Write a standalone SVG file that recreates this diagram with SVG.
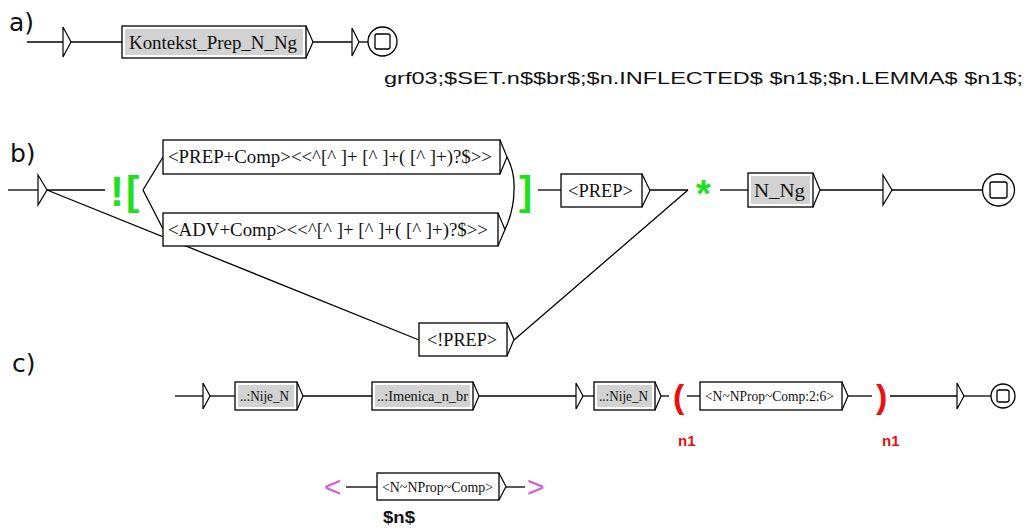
<svg xmlns="http://www.w3.org/2000/svg" width="1029" height="529" viewBox="0 0 1029 529">
<style>
.ln{stroke:#000;stroke-width:1.3;fill:none}
.box{fill:#fff;stroke:#000;stroke-width:1.3}
.gray{fill:#d2d2d2;stroke:none}
.arr{fill:none;stroke:#000;stroke-width:1.2}
.tri{fill:#fff;stroke:#000;stroke-width:1.2}
.fin{fill:#fff;stroke:#000;stroke-width:1.3}
.bt{font-family:"Liberation Serif",serif;fill:#111}
.lab{font-family:"DejaVu Sans",sans-serif;font-size:25px;fill:#111}
.grn{font-family:"Liberation Sans",sans-serif;font-weight:bold;fill:#1fe01f}
.red{font-family:"Liberation Sans",sans-serif;font-weight:bold;fill:#e81010}
.mag{font-family:"Liberation Sans",sans-serif;fill:#d45ed4}
.out{font-family:"Liberation Sans",sans-serif;fill:#111}
</style>
<rect width="1029" height="529" fill="#fff"/>

<!-- labels -->
<text class="lab" x="9" y="31">a)</text>
<text class="lab" x="10" y="162">b)</text>
<text class="lab" x="12" y="372">c)</text>

<!-- connectors -->
<g id="connectors">
  <!-- a -->
  <line class="ln" x1="27" y1="42" x2="63" y2="42"/>
  <line class="ln" x1="71" y1="42" x2="122" y2="42"/>
  <line class="ln" x1="313" y1="42" x2="352" y2="42"/>
  <line class="ln" x1="359" y1="42" x2="368" y2="42"/>
  <!-- b -->
  <line class="ln" x1="8" y1="190" x2="38" y2="190"/>
  <line class="ln" x1="47" y1="190" x2="105" y2="190"/>
  <line class="ln" x1="47" y1="190" x2="419" y2="340"/>
  <line class="ln" x1="143" y1="190" x2="163" y2="157"/>
  <line class="ln" x1="143" y1="190" x2="163" y2="229"/>
  <path class="ln" d="M507,157 Q515,172 514,190 Q514,210 505,229.5"/>
  <line class="ln" x1="538" y1="190" x2="561" y2="190"/>
  <line class="ln" x1="650" y1="190" x2="688" y2="190"/>
  <line class="ln" x1="688" y1="190" x2="514" y2="340"/>
  <line class="ln" x1="720" y1="190" x2="748" y2="190"/>
  <line class="ln" x1="820" y1="190" x2="883" y2="190"/>
  <line class="ln" x1="892" y1="190" x2="982" y2="190"/>
  <!-- c -->
  <line class="ln" x1="175" y1="396" x2="203" y2="396"/>
  <line class="ln" x1="210" y1="396" x2="235" y2="396"/>
  <line class="ln" x1="303" y1="396" x2="372" y2="396"/>
  <line class="ln" x1="479" y1="396" x2="576" y2="396"/>
  <line class="ln" x1="583" y1="396" x2="594" y2="396"/>
  <line class="ln" x1="661" y1="396" x2="669" y2="396"/>
  <line class="ln" x1="687" y1="396" x2="700" y2="396"/>
  <line class="ln" x1="848" y1="396" x2="872" y2="396"/>
  <line class="ln" x1="890" y1="396" x2="957" y2="396"/>
  <line class="ln" x1="964" y1="396" x2="991" y2="396"/>
  <line class="ln" x1="346" y1="487" x2="377" y2="487"/>
  <line class="ln" x1="506" y1="487" x2="525" y2="487"/>
</g>

<!-- a) nodes -->
<g id="a_init"><polygon class="tri" points="63,27 71,42 63,57"/></g>
<g id="a_kontekst">
  <rect class="box" x="122" y="26" width="184" height="32"/>
  <rect class="gray" x="125" y="29" width="178" height="26"/>
  <polyline class="arr" points="306,26 313,42 306,58"/>
  <text class="bt" x="129" y="48.5" font-size="19" textLength="168" lengthAdjust="spacingAndGlyphs">Kontekst_Prep_N_Ng</text>
</g>
<g id="a_term"><polygon class="tri" points="352,28 359,42 352,56"/></g>
<g id="a_final">
  <circle class="fin" cx="382.5" cy="41.5" r="14.5"/>
  <rect class="fin" x="375" y="34" width="15" height="15" rx="2"/>
</g>
<g id="a_output">
  <text class="out" x="384" y="84" font-size="17" textLength="639" lengthAdjust="spacingAndGlyphs">grf03;$SET.n$$br$;$n.INFLECTED$ $n1$;$n.LEMMA$ $n1$;</text>
</g>

<!-- b) nodes -->
<g id="b_init"><polygon class="tri" points="38,175 47,190 38,205"/></g>
<g id="b_open">
  <text class="grn" x="110" y="206" font-size="42">!</text>
  <text class="grn" x="126" y="205" font-size="40">[</text>
</g>
<g id="b_prepcomp">
  <rect class="box" x="163" y="140" width="337" height="34"/>
  <polyline class="arr" points="500,140 507,157 500,174"/>
  <text class="bt" x="168" y="163" font-size="18" textLength="324" lengthAdjust="spacingAndGlyphs">&lt;PREP+Comp&gt;&lt;&lt;^[^ ]+ [^ ]+( [^ ]+)?$&gt;&gt;</text>
</g>
<g id="b_advcomp">
  <rect class="box" x="163" y="213" width="335" height="33"/>
  <polyline class="arr" points="498,213 505,229.5 498,246"/>
  <text class="bt" x="168" y="235.5" font-size="18" textLength="320" lengthAdjust="spacingAndGlyphs">&lt;ADV+Comp&gt;&lt;&lt;^[^ ]+ [^ ]+( [^ ]+)?$&gt;&gt;</text>
</g>
<g id="b_close"><text class="grn" x="519" y="205" font-size="40">]</text></g>
<g id="b_prep">
  <rect class="box" x="561" y="174" width="81" height="33"/>
  <polyline class="arr" points="642,174 650,190.5 642,207"/>
  <text class="bt" x="568" y="197" font-size="18" textLength="65" lengthAdjust="spacingAndGlyphs">&lt;PREP&gt;</text>
</g>
<g id="b_notprep">
  <rect class="box" x="419" y="323" width="88" height="33"/>
  <polyline class="arr" points="507,323 514,339.5 507,356"/>
  <text class="bt" x="427" y="346" font-size="18" textLength="70" lengthAdjust="spacingAndGlyphs">&lt;!PREP&gt;</text>
</g>
<g id="b_star"><text class="grn" x="696" y="207" font-size="38">*</text></g>
<g id="b_nng">
  <rect class="box" x="748" y="173" width="65" height="34"/>
  <rect class="gray" x="751" y="176" width="59" height="28"/>
  <polyline class="arr" points="813,173 820,190 813,207"/>
  <text class="bt" x="754" y="196.5" font-size="19" textLength="51" lengthAdjust="spacingAndGlyphs">N_Ng</text>
</g>
<g id="b_term"><polygon class="tri" points="883,175 892,190 883,205"/></g>
<g id="b_final">
  <circle class="fin" cx="998.5" cy="190" r="16"/>
  <rect class="fin" x="990" y="182" width="17" height="16" rx="2"/>
</g>

<!-- c) nodes -->
<g id="c_init"><polygon class="tri" points="203,383 210,396 203,409"/></g>
<g id="c_nije1">
  <rect class="box" x="235" y="382" width="62" height="28"/>
  <rect class="gray" x="238" y="385" width="56" height="22"/>
  <polyline class="arr" points="297,382 303,396 297,410"/>
  <text class="bt" x="240" y="401" font-size="15" textLength="49" lengthAdjust="spacingAndGlyphs">..:Nije_N</text>
</g>
<g id="c_imenica">
  <rect class="box" x="372" y="382" width="101" height="28"/>
  <rect class="gray" x="375" y="385" width="95" height="22"/>
  <polyline class="arr" points="473,382 479,396 473,410"/>
  <text class="bt" x="377" y="401" font-size="15" textLength="91" lengthAdjust="spacingAndGlyphs">..:Imenica_n_br</text>
</g>
<g id="c_term1"><polygon class="tri" points="576,383 583,396 576,409"/></g>
<g id="c_nije2">
  <rect class="box" x="594" y="382" width="61" height="28"/>
  <rect class="gray" x="597" y="385" width="55" height="22"/>
  <polyline class="arr" points="655,382 661,396 655,410"/>
  <text class="bt" x="599" y="401" font-size="15" textLength="49" lengthAdjust="spacingAndGlyphs">..:Nije_N</text>
</g>
<g id="c_open">
  <text class="red" x="673" y="408" font-size="34">(</text>
  <text class="red" x="678" y="446" font-size="15">n1</text>
</g>
<g id="c_nprop">
  <rect class="box" x="700" y="382" width="142" height="28"/>
  <polyline class="arr" points="842,382 848,396 842,410"/>
  <text class="bt" x="705" y="401" font-size="15" textLength="129" lengthAdjust="spacingAndGlyphs">&lt;N~NProp~Comp:2:6&gt;</text>
</g>
<g id="c_close">
  <text class="red" x="876" y="408" font-size="34">)</text>
  <text class="red" x="882" y="446" font-size="15">n1</text>
</g>
<g id="c_term2"><polygon class="tri" points="957,383 964,396 957,409"/></g>
<g id="c_final">
  <circle class="fin" cx="1003" cy="396" r="12"/>
  <rect class="fin" x="997" y="390" width="12" height="12" rx="2"/>
</g>
<g id="c_varopen"><text class="mag" x="324" y="497" font-size="30">&lt;</text></g>
<g id="c_nprop2">
  <rect class="box" x="377" y="473" width="122" height="27"/>
  <polyline class="arr" points="499,473 506,486.5 499,500"/>
  <text class="bt" x="382" y="491.5" font-size="14" textLength="111" lengthAdjust="spacingAndGlyphs">&lt;N~NProp~Comp&gt;</text>
</g>
<g id="c_varclose">
  <text class="mag" x="527" y="497" font-size="30">&gt;</text>
  <text class="out" x="383" y="523" font-size="16" font-weight="bold" textLength="32" lengthAdjust="spacingAndGlyphs">$n$</text>
</g>
</svg>
